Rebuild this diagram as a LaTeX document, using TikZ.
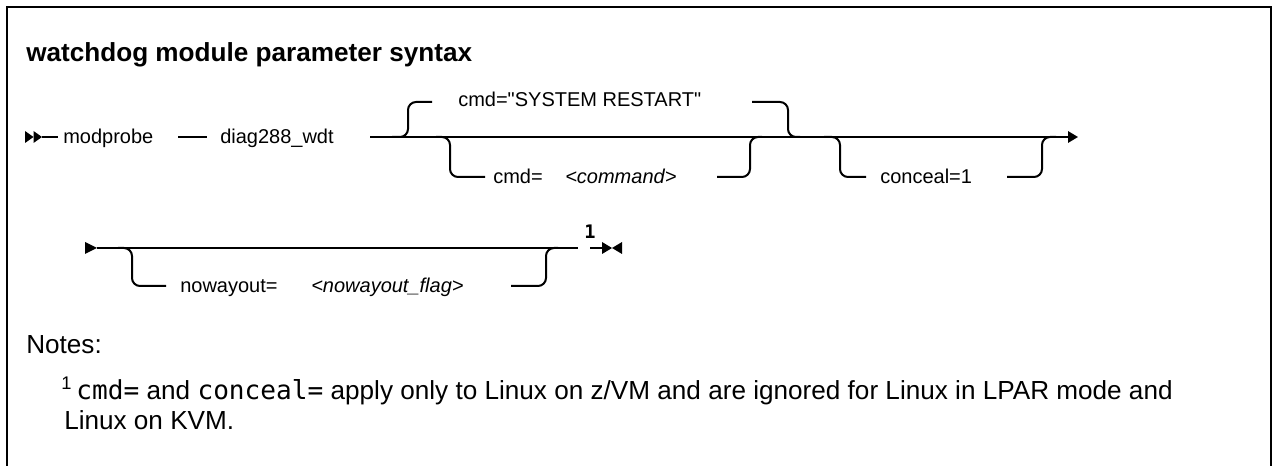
\documentclass[tikz,border=0pt]{standalone}
\usepackage{fontspec}
\setmainfont{Liberation Sans}
\newfontfamily\monof{DejaVu Sans Mono}
\newfontfamily\plainsans{Liberation Sans}[Ligatures=TeXOff]
\usetikzlibrary{arrows.meta}
\begin{document}
\begin{tikzpicture}[x=0.75pt,y=-0.75pt,
  rr/.style={line width=1.5pt},
  branch/.style={rr, rounded corners=6pt},
  lbl/.style={font=\fontsize{15}{18}\selectfont, inner sep=0pt, anchor=base west},
  ilbl/.style={lbl, font=\fontsize{15}{18}\selectfont\itshape},
  note/.style={font=\fontsize{19.6}{23}\selectfont, inner sep=0pt, anchor=base west},
  tipfill/.style={fill=black, draw=none}]
\useasboundingbox (0,0) rectangle (1274,466);
% frame (bottom open)
\draw[line width=1.9pt] (7,480) -- (7,7) -- (1271,7) -- (1271,480);
% title
\node[font=\bfseries\fontsize{19.6}{23}\selectfont, inner sep=0pt, anchor=base west] (title) at (26,62) {watchdog module parameter syntax};
% ---------- row 1 ----------
\coordinate (r1a) at (25,137);
\coordinate (r1b) at (33.5,137);
\coordinate (r1c) at (42,137);
\fill[tipfill] (r1a) ++(0,-6) -- (r1b) -- ++(-8.5,6) -- cycle;
\fill[tipfill] (r1b) ++(0,-6) -- (r1c) -- ++(-8.5,6) -- cycle;
\node[lbl] (mod) at (63,144) {modprobe};
\node[lbl] (diag) at (220,144) {diag288\_wdt};
\node[lbl, font=\plainsans\fontsize{15}{18}\selectfont] (def) at (458,107) {cmd="SYSTEM RESTART"};
\node[lbl] (cmdk) at (493,184) {cmd=};
\node[ilbl] (cmdv) at (565,184) {<command>};
\node[lbl] (conc) at (880,184) {conceal=1};
\coordinate (m1) at (58,137);
\coordinate (m2) at (178,137);
\coordinate (m3) at (207,137);
\coordinate (m4) at (370,137);
\coordinate (r1end) at (1078,137);
\draw[rr] (r1c) -- (m1);
\draw[rr] (m2) -- (m3);
\draw[rr,-{Triangle[length=7.5pt,width=8.5pt]}] (m4) -- (r1end);
% default branch (above)
\draw[branch] (392,137) -- (408,137) -- (408,102) -- (432,102);
\draw[branch] (752,102) -- (788,102) -- (788,137) -- (800,137);
% cmd=<command> branch (below)
\draw[branch] (436,137) -- (450,137) -- (450,177) -- (485,177);
\draw[branch] (717,177) -- (750,177) -- (750,137) -- (762,137);
% conceal branch (below)
\draw[branch] (824,137) -- (840,137) -- (840,177) -- (866,177);
\draw[branch] (1007,177) -- (1042,177) -- (1042,137) -- (1056,137);
% ---------- row 2 ----------
\coordinate (r2a) at (85,248);
\coordinate (r2b) at (97,248);
\coordinate (r2end) at (578,248);
\fill[tipfill] (r2a) ++(0,-6) -- (r2b) -- ++(-12,6) -- cycle;
\draw[rr] (r2b) -- (r2end);
\node[lbl] (nwk) at (180,293) {nowayout=};
\node[ilbl] (nwv) at (311,293) {<nowayout\_flag>};
\draw[branch] (118,248) -- (132,248) -- (132,286) -- (166,286);
\draw[branch] (511,286) -- (546,286) -- (546,248) -- (558,248);
\coordinate (e1) at (590,248);
\coordinate (e2) at (612,248);
\draw[rr] (e1) -- (602,248);
\fill[tipfill] (e2) -- ++(-10,-6) -- ++(0,12) -- cycle;
\fill[tipfill] (e2) -- ++(10,-6) -- ++(0,12) -- cycle;
\node[font=\monof\bfseries\fontsize{14}{16}\selectfont, inner sep=0pt, anchor=base] (fnmark) at (590,239) {1};
% ---------- notes ----------
\node[note] (notes) at (26,354) {Notes:};
\node[note] (fn1) at (61,400) {\textsuperscript{1}\,{\monof cmd=} and {\monof conceal=} apply only to Linux on z/VM and are ignored for Linux in LPAR mode and};
\node[note] (fn2) at (64,430) {Linux on KVM.};
\end{tikzpicture}
\end{document}
